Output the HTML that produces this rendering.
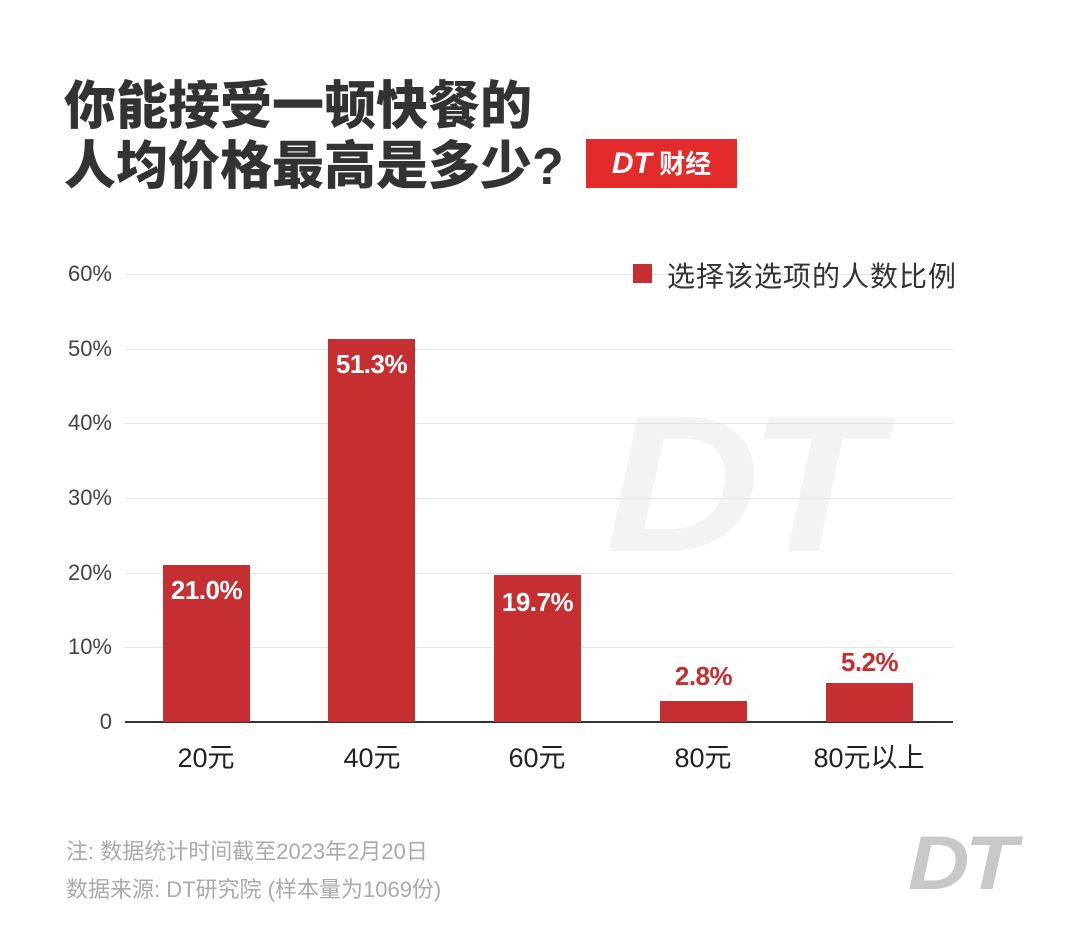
<!DOCTYPE html>
<html><head><meta charset="utf-8"><style>
body{margin:0;width:1080px;height:937px;background:#fff;position:relative;overflow:hidden;font-family:"Liberation Sans","Noto Sans CJK SC",sans-serif}
.a{position:absolute;white-space:nowrap}
.t{left:64px;font-size:52px;font-weight:900;color:#333;line-height:1}
.g{position:absolute;left:125px;width:828px;height:1px;background:#e4e4e4}
.yl{position:absolute;right:968px;font-size:22px;color:#444;transform:translateY(-50%)}
.bar{position:absolute;background:#c62f32;width:87px}
.v{position:absolute;width:87px;text-align:center;font-size:26px;font-weight:bold;letter-spacing:-0.5px}
.xl{position:absolute;width:180px;text-align:center;font-size:27px;color:#222;top:736px}
.dt{font-family:"Liberation Sans",sans-serif;font-weight:900;font-style:italic}
</style></head><body>
<div class="a dt" style="left:605px;top:372px;font-size:195px;color:#f3f3f3;letter-spacing:-10px;transform:scaleX(1.1);transform-origin:left">DT</div>
<div class="a t" style="top:81px">你能接受一顿快餐的</div>
<div class="a t" style="top:141px">人均价格最高是多少?</div>
<div class="a" style="left:586px;top:139px;width:151px;height:49px;background:#e32b2b;color:#fff;font-size:26px;font-weight:bold;line-height:49px;text-align:center"><span class="dt" style="font-size:30px">DT</span> 财经</div>
<div class="g" style="top:274px"></div><div class="g" style="top:349px"></div><div class="g" style="top:423px"></div><div class="g" style="top:498px"></div><div class="g" style="top:573px"></div><div class="g" style="top:647px"></div>
<div class="a" style="left:125px;top:721px;width:828px;height:2px;background:#333"></div>
<div class="yl" style="top:274px">60%</div><div class="yl" style="top:349px">50%</div><div class="yl" style="top:423px">40%</div><div class="yl" style="top:498px">30%</div><div class="yl" style="top:573px">20%</div><div class="yl" style="top:647px">10%</div><div class="yl" style="top:722px">0</div>
<div class="a" style="left:633px;top:264px;width:19px;height:19px;background:#c62f32"></div>
<div class="a" style="left:667px;top:255px;font-size:28px;color:#333;letter-spacing:1px">选择该选项的人数比例</div>
<div class="bar" style="left:163px;top:565px;height:157px"></div>
<div class="bar" style="left:328px;top:339px;height:383px"></div>
<div class="bar" style="left:494px;top:575px;height:147px"></div>
<div class="bar" style="left:660px;top:701px;height:21px"></div>
<div class="bar" style="left:826px;top:683px;height:39px"></div>
<div class="v" style="left:163px;top:575px;color:#fff">21.0%</div>
<div class="v" style="left:328px;top:349px;color:#fff">51.3%</div>
<div class="v" style="left:494px;top:587px;color:#fff">19.7%</div>
<div class="v" style="left:660px;top:661px;color:#c62f32">2.8%</div>
<div class="v" style="left:826px;top:647px;color:#c62f32">5.2%</div>
<div class="xl" style="left:116px">20元</div><div class="xl" style="left:282px">40元</div><div class="xl" style="left:447px">60元</div><div class="xl" style="left:613px">80元</div><div class="xl" style="left:779px">80元以上</div>
<div class="a" style="left:66px;top:834px;font-size:22px;color:#aaa">注: 数据统计时间截至2023年2月20日</div>
<div class="a" style="left:66px;top:872px;font-size:22px;color:#aaa">数据来源: DT研究院 (样本量为1069份)</div>
<div class="a dt" style="left:908px;top:820px;font-size:76px;color:#c8c8c8;letter-spacing:-4px;transform:scaleX(1.12);transform-origin:left">DT</div>
</body></html>
